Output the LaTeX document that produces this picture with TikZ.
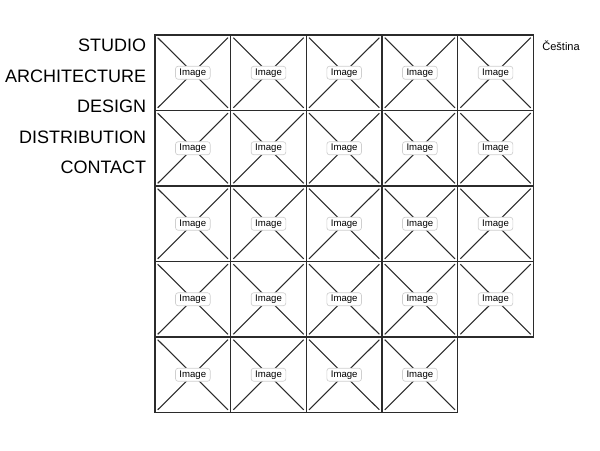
\documentclass[tikz,border=0pt]{standalone}
\usepackage{fontspec}
\setmainfont{Liberation Sans}
\usepackage{xcolor}
\definecolor{lineGray}{HTML}{2B2B2B}
\definecolor{tagGray}{HTML}{CFCFCF}

\tikzset{
    cell/.style={draw=lineGray, line width=1.1pt, rectangle, inner sep=0pt,
        minimum width=56.75pt, minimum height=56.6pt},
    cross/.style={draw=lineGray, line width=0.8pt, shorten >=3.6pt, shorten <=3.6pt},
    imgtag/.style={draw=tagGray, fill=white, rounded corners=2pt, line width=0.5pt,
        inner sep=0pt, minimum width=26pt, minimum height=9.8pt,
        font=\fontsize{7.2}{8}\selectfont},
    navitem/.style={anchor=east, inner sep=0.75pt, font=\fontsize{13.5}{16}\selectfont}
}

\begin{document}
\begin{tikzpicture}[x=0.75pt,y=0.75pt,yscale=-1,xscale=1]
    \useasboundingbox (0,0) rectangle (600,450); %page of 600 x 450

    % Menu text nodes
    \node[navitem] (studio) at (147.5,45.5) {STUDIO};
    \node[navitem] (architecture) at (147.5,76) {ARCHITECTURE};
    \node[navitem] (design) at (147.5,106.5) {DESIGN};
    \node[navitem] (distribution) at (147.5,137) {DISTRIBUTION};
    \node[navitem] (contact) at (147.5,167.5) {CONTACT};

    % Language text node
    \node[anchor=west, inner sep=0.75pt, font=\fontsize{8.3}{10}\selectfont] (lang) at (541,45.5) {Čeština};

    % Image grid: 4 full rows of 5, last row of 4
    \foreach \r in {1,...,5} {
        \pgfmathtruncatemacro{\lastc}{\r==5 ? 4 : 5}
        \foreach \c in {1,...,\lastc} {
            \pgfmathsetmacro{\cx}{155+75.67*(\c-0.5)}
            \pgfmathsetmacro{\cy}{35+75.5*(\r-0.5)}
            \node[cell] (img-\r-\c) at (\cx,\cy) {};
            \draw[cross] (img-\r-\c.north west) -- (img-\r-\c.south east);
            \draw[cross] (img-\r-\c.north east) -- (img-\r-\c.south west);
            \node[imgtag] (tag-\r-\c) at (img-\r-\c.center) {Image};
        }
    }

\end{tikzpicture}
\end{document}
